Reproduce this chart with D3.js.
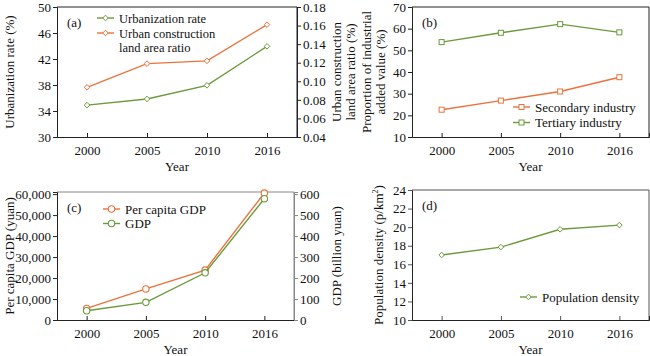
<!DOCTYPE html>
<html><head><meta charset="utf-8">
<script src="https://cdn.jsdelivr.net/npm/d3@7"></script>
<style>body{margin:0;background:#fff}svg, svg text{font-family:"Liberation Serif","Times New Roman",serif}</style>
</head><body><svg id="c" width="650" height="356"></svg>
<script>
const years = ["2000","2005","2010","2016"];
const urbanizationRate = [34.9, 35.85, 37.95, 43.95];
const landAreaRatio = [0.0935, 0.119, 0.122, 0.161];
const secondaryIndustry = [22.6, 26.8, 31.0, 37.6];
const tertiaryIndustry = [53.8, 58.1, 62.1, 58.3];
const perCapitaGDP = [5500, 14800, 23800, 60500];
const gdp = [44, 84, 225, 578];
const populationDensity = [17.0, 17.85, 19.77, 20.22];

const GREEN = "#6b9a3c", ORANGE = "#ea733d";
const TXT = "#111";
const svg = d3.select("#c");
const FS = 13;

function panel(o){
  const g = svg.append("g");
  const x = d3.scalePoint().domain(years).range([o.l, o.r]).padding(0.5);
  const y = d3.scaleLinear().domain(o.yd).range([o.b, o.t]);
  let y2 = null;
  if (o.y2d) y2 = d3.scaleLinear().domain(o.y2d).range([o.b, o.t]);
  const fc = o.frame || "#222";
  g.append("line").attr("x1",o.l).attr("x2",o.r).attr("y1",o.t).attr("y2",o.t).attr("stroke",o.topColor||fc);
  g.append("line").attr("x1",o.r).attr("x2",o.r).attr("y1",o.t).attr("y2",o.b).attr("stroke",o.rightColor||fc);
  const ya = g.append("g").attr("transform",`translate(${o.l},0)`).call(d3.axisLeft(y).tickValues(o.yt).tickSize(4).tickPadding(2).tickFormat(o.yf||(d=>d)));
  const xa = g.append("g").attr("transform",`translate(0,${o.b})`).call(d3.axisBottom(x).tickSize(-4).tickPadding(9));
  [ya,xa].forEach(a=>{a.attr("font-family",null).attr("font-size",null);
    a.selectAll("text").attr("font-size",FS).attr("fill",TXT);
    a.select(".domain").attr("stroke","#222"); a.selectAll(".tick line").attr("stroke",fc);});
  if (y2){
    const ra = g.append("g").attr("transform",`translate(${o.r},0)`).call(d3.axisRight(y2).tickValues(o.y2t).tickSize(4).tickPadding(2).tickFormat(o.y2f||(d=>d)));
    ra.attr("font-family",null).attr("font-size",null);
    ra.selectAll("text").attr("font-size",FS).attr("fill",TXT);
    ra.select(".domain").attr("stroke",o.rightColor||fc); ra.selectAll(".tick line").attr("stroke",o.rightColor||fc);
  }
  g.append("text").attr("x",(o.l+o.r)/2).attr("y",o.b+34).attr("text-anchor","middle").attr("font-size",FS).attr("fill",TXT).text("Year");
  g.append("text").attr("x",o.l+10).attr("y",o.t+20).attr("font-size",FS).attr("fill",TXT).text(o.letter);
  return {g,x,y,y2};
}

function marker(g, shape, cx, cy, color){
  if (shape==="diamond"){
    g.append("path").attr("d",`M${cx},${cy-2.8}L${cx+2.8},${cy}L${cx},${cy+2.8}L${cx-2.8},${cy}Z`).attr("fill","#fff").attr("stroke",color).attr("stroke-width",1);
  } else if (shape==="square"){
    g.append("rect").attr("x",cx-2.5).attr("y",cy-2.5).attr("width",5).attr("height",5).attr("fill","#fff").attr("stroke",color).attr("stroke-width",1);
  } else {
    g.append("circle").attr("cx",cx).attr("cy",cy).attr("r",3.2).attr("fill","#fff").attr("stroke",color).attr("stroke-width",1.1);
  }
}

function series(p, vals, scale, color, shape){
  const line = d3.line().x((d,i)=>p.x(years[i])).y(d=>scale(d));
  p.g.append("path").datum(vals).attr("d",line).attr("fill","none").attr("stroke",color).attr("stroke-width",1.4);
  vals.forEach((v,i)=>marker(p.g,shape,p.x(years[i]),scale(v),color));
}

function legend(p, x0, y0, items, shape, dy, lh, fs){
  items.forEach((it,i)=>{
    const yy = y0 + i*dy;
    p.g.append("line").attr("x1",x0).attr("x2",x0+17).attr("y1",yy).attr("y2",yy).attr("stroke",it.c).attr("stroke-width",1.4);
    marker(p.g,shape,x0+8.5,yy,it.c);
    it.t.forEach((t,j)=>p.g.append("text").attr("x",x0+22).attr("y",yy+4.5+j*(lh||13)).attr("font-size",fs||FS).attr("fill",TXT).text(t));
  });
}

function vlabel(x, yc, lines){
  const t = svg.append("text").attr("transform",`translate(${x},${yc}) rotate(-90)`).attr("text-anchor","middle").attr("font-size",FS).attr("fill",TXT);
  lines.forEach((l,i)=>{
    const ts = t.append("tspan").attr("x",0).attr("dy", i===0?0:14);
    if (typeof l === "string") ts.text(l); else { ts.text(l[0]); t.append("tspan").attr("font-size",8).attr("dy",-5).text(l[1]); t.append("tspan").attr("dy",5).text(l[2]); }
  });
}

// (a)
const pa = panel({l:57,r:297,t:7,b:137,yd:[30,50],yt:[30,34,38,42,46,50],y2d:[0.04,0.18],y2t:[0.04,0.06,0.08,0.10,0.12,0.14,0.16,0.18],y2f:d3.format(".2f"),letter:"(a)"});
series(pa, urbanizationRate, pa.y, GREEN, "diamond");
series(pa, landAreaRatio, pa.y2, ORANGE, "diamond");
legend(pa, 97, 18, [{c:GREEN,t:["Urbanization rate"]}], "diamond", 14, 13, 12.5);
legend(pa, 97, 33, [{c:ORANGE,t:["Urban construction","land area ratio"]}], "diamond", 14, 14, 12.5);
vlabel(14, 72, ["Urbanization rate (%)"]);
vlabel(341, 72, ["Urban construction","land area ratio (%)"]);

// (b)
const pb = panel({l:412,r:649,t:7,b:137,yd:[10,70],yt:[10,20,30,40,50,60,70],letter:"(b)"});
series(pb, secondaryIndustry, pb.y, ORANGE, "square");
series(pb, tertiaryIndustry, pb.y, GREEN, "square");
legend(pb, 513, 107, [{c:ORANGE,t:["Secondary industry"]},{c:GREEN,t:["Tertiary industry"]}], "square", 15.5);
vlabel(371, 72, ["Proportion of industrial","added value (%)"]);

// (c)
const pc = panel({l:57,r:294,t:192,b:320,yd:[0,61000],yt:[0,10000,20000,30000,40000,50000,60000],yf:d3.format(","),y2d:[0,610],y2t:[0,100,200,300,400,500,600],rightColor:"#888",topColor:"#888",letter:"(c)"});
series(pc, perCapitaGDP, pc.y, ORANGE, "circle");
series(pc, gdp, pc.y2, GREEN, "circle");
legend(pc, 103, 209, [{c:ORANGE,t:["Per capita GDP"]},{c:GREEN,t:["GDP"]}], "circle", 14.5);
vlabel(14, 256, ["Per capita GDP (yuan)"]);
vlabel(341, 256, ["GDP (billion yuan)"]);

// (d)
const pd = panel({l:412,r:649,t:190,b:320,yd:[10,24],yt:[10,12,14,16,18,20,22,24],frame:"#555",letter:"(d)"});
series(pd, populationDensity, pd.y, GREEN, "diamond");
legend(pd, 520, 297, [{c:GREEN,t:["Population density"]}], "diamond", 14);
vlabel(383, 255, [["Population density (p/km","2",")"]]);
</script></body></html>
